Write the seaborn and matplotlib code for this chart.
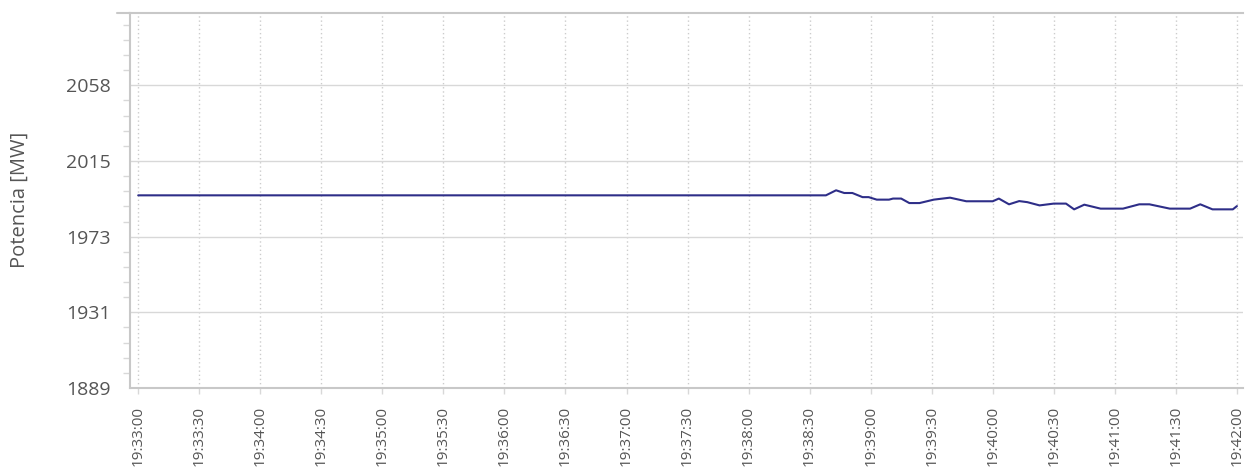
import matplotlib
matplotlib.use("Agg")
import matplotlib.pyplot as plt
import matplotlib.dates as mdates
import matplotlib.ticker as mticker
import pandas as pd
import seaborn as sns

# power readings (MW)
times = [
    "19:33:00", "19:38:38", "19:38:43", "19:38:47", "19:38:51", "19:38:56",
    "19:38:59", "19:39:03", "19:39:09", "19:39:11", "19:39:15", "19:39:19",
    "19:39:24", "19:39:31", "19:39:39", "19:39:47", "19:40:00", "19:40:03",
    "19:40:08", "19:40:13", "19:40:17", "19:40:23", "19:40:30", "19:40:36",
    "19:40:40", "19:40:45", "19:40:53", "19:41:04", "19:41:12", "19:41:17",
    "19:41:27", "19:41:37", "19:41:42", "19:41:48", "19:41:58", "19:42:00",
]
power = [
    1996.2, 1996.2, 1999.0, 1997.5, 1997.5, 1995.2,
    1995.2, 1993.8, 1993.8, 1994.4, 1994.4, 1991.9,
    1991.9, 1993.8, 1994.9, 1992.9, 1992.9, 1994.4,
    1991.2, 1993.0, 1992.4, 1990.6, 1991.6, 1991.6,
    1988.4, 1991.0, 1988.8, 1988.8, 1991.2, 1991.2,
    1988.8, 1988.8, 1991.2, 1988.4, 1988.4, 1990.2,
]
y_ticks = [1889, 1931.1, 1973.2, 2015.3, 2057.4]
y_tick_labels = ["1889", "1931", "1973", "2015", "2058"]

df = pd.DataFrame({
    "hora": pd.to_datetime(["2020-01-01 " + t for t in times]),
    "potencia": power,
})

sns.set_style("white")
plt.rcParams["font.family"] = ["Open Sans", "DejaVu Sans"]

grid_c = "#d8d8d8"
text_c = "#555555"

fig = plt.figure(figsize=(12.47, 4.72), dpi=100)
ax = fig.add_axes([0.1043, 0.178, 0.8925, 0.795])

sns.lineplot(data=df, x="hora", y="potencia", ax=ax, color="#2e2e88", linewidth=1.5)

t0 = df["hora"].iloc[0]
ax.set_xlim(t0 - pd.Timedelta(seconds=4), t0 + pd.Timedelta(seconds=543))
ax.set_ylim(1889, 2097.8)

ax.xaxis.set_major_locator(mdates.SecondLocator(bysecond=[0, 30]))
ax.xaxis.set_major_formatter(mdates.DateFormatter("%H:%M:%S"))
ax.yaxis.set_major_locator(mticker.FixedLocator(y_ticks))
ax.yaxis.set_major_formatter(mticker.FixedFormatter(y_tick_labels))
ax.yaxis.set_minor_locator(mticker.MultipleLocator(8.42, offset=1889))

ax.grid(axis="y", which="major", color=grid_c, linewidth=1, linestyle="-")
ax.grid(axis="x", which="major", color="#cccccc", linewidth=1, linestyle=(0, (1, 2)))

ax.tick_params(axis="y", which="major", length=11, width=1, color=grid_c,
               labelsize=14, labelcolor=text_c, pad=3)
ax.tick_params(axis="y", which="minor", left=True, length=5, width=1, color=grid_c)
ax.tick_params(axis="x", which="major", bottom=True, length=4, width=1, color=grid_c,
               labelsize=11, labelcolor=text_c, pad=9, labelrotation=90)

for side in ["left", "bottom", "top"]:
    ax.spines[side].set_color("#c8c8c8")
    ax.spines[side].set_linewidth(1.5)
ax.spines["right"].set_visible(False)
# top border runs a bit past the axis like the other major lines
ax.plot([-0.012, 0], [1, 1], transform=ax.transAxes, color="#c8c8c8",
        linewidth=1.5, clip_on=False)

ax.set_xlabel("")
ax.set_ylabel("Potencia [MW]", fontsize=14.5, color=text_c, labelpad=26)

fig.savefig("out.png", dpi=100)
